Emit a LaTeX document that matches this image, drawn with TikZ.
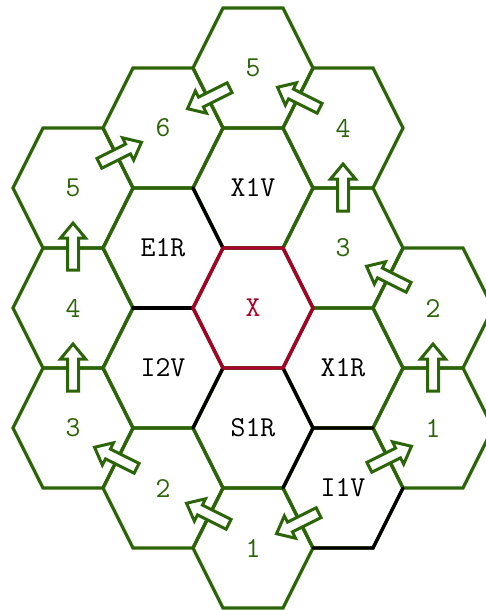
\documentclass[tikz,border=0pt]{standalone}
\usepackage{fontspec}
\definecolor{cellgreen}{RGB}{44,100,8}
\definecolor{corered}{RGB}{168,0,40}
\tikzset{
  gridline/.style={line width=3.2bp, draw=cellgreen, line join=miter},
  hexcell/.pic={
    \draw[gridline] (-60,0) -- (-30,-60) -- (30,-60) -- (60,0) -- (30,60) -- (-30,60) -- cycle;
  },
  flowarrow/.pic={
    \draw[line width=3bp, draw=cellgreen, fill=white, line join=miter]
      (-23,-5.5) -- (9,-5.5) -- (9,-12.5) -- (24,0) -- (9,12.5) -- (9,5.5) -- (-23,5.5) -- cycle;
  },
  celltext/.style={font=\fontsize{29}{32}\selectfont\ttfamily, inner sep=0pt},
  numlabel/.style={celltext, text=cellgreen},
  keylabel/.style={celltext, text=black},
  borderline/.style={line width=3.2bp, draw=black, line cap=round},
}
\begin{document}
\begin{tikzpicture}[x=1bp, y=-1bp]
\useasboundingbox (0,0) rectangle (486,610);
\clip (0,0) rectangle (486,610);

% cell centres
\coordinate (c5a) at (73,188);
\coordinate (c4a) at (73,308);
\coordinate (c3a) at (73,428);
\coordinate (c6)  at (163,128);
\coordinate (cE)  at (163,248);
\coordinate (cI2) at (163,368);
\coordinate (c2a) at (163,488);
\coordinate (c5b) at (253,68);
\coordinate (cX1V) at (253,188);
\coordinate (cX)  at (253,308);
\coordinate (cS)  at (253,428);
\coordinate (c1a) at (253,548);
\coordinate (c4b) at (343,128);
\coordinate (c3b) at (343,248);
\coordinate (cX1R) at (343,368);
\coordinate (cI1) at (343,488);
\coordinate (c2b) at (433,308);
\coordinate (c1b) at (433,428);

% green hex grid
\foreach \c in {c5a,c4a,c3a,c6,cE,cI2,c2a,c5b,cX1V,cX,cS,c1a,c4b,c3b,cX1R,cI1,c2b,c1b}
  \pic at (\c) {hexcell};

% black borders
\draw[borderline] (193,188) -- (223,248);
\draw[borderline] (133,308) -- (193,308);
\draw[borderline] (223,368) -- (193,428);
\draw[borderline] (283,368) -- (313,428) -- (373,428);
\draw[borderline] (313,428) -- (283,488);
\draw[borderline] (403,488) -- (373,548) -- (313,548);

% central cell
\draw[line width=3.2bp, draw=corered, line join=miter]
  (193,308) -- (223,248) -- (283,248) -- (313,308) -- (283,368) -- (223,368) -- cycle;

% flow arrows
\pic[rotate=206.57] at (209,98) {flowarrow};
\pic[rotate=153.43] at (299,98) {flowarrow};
\pic[rotate=26.57]  at (120,153) {flowarrow};
\pic[rotate=90]     at (73,247) {flowarrow};
\pic[rotate=90]     at (73,368) {flowarrow};
\pic[rotate=153.43] at (116,458) {flowarrow};
\pic[rotate=153.43] at (208,514) {flowarrow};
\pic[rotate=206.57] at (298,523) {flowarrow};
\pic[rotate=26.57]  at (390,457) {flowarrow};
\pic[rotate=90]     at (433,368) {flowarrow};
\pic[rotate=153.43] at (388,277) {flowarrow};
\pic[rotate=90]     at (343,188) {flowarrow};

% labels
\node[numlabel] (n5a) at (c5a) {5};
\node[numlabel] (n4a) at (c4a) {4};
\node[numlabel] (n3a) at (c3a) {3};
\node[numlabel] (n6)  at (c6)  {6};
\node[keylabel] (nE)  at (cE)  {E1R};
\node[keylabel] (nI2) at (cI2) {I2V};
\node[numlabel] (n2a) at (c2a) {2};
\node[numlabel] (n5b) at (c5b) {5};
\node[keylabel] (nX1V) at (cX1V) {X1V};
\node[celltext, text=corered] (nX) at (cX) {X};
\node[keylabel] (nS)  at (cS)  {S1R};
\node[numlabel] (n1a) at (c1a) {1};
\node[numlabel] (n4b) at (c4b) {4};
\node[numlabel] (n3b) at (c3b) {3};
\node[keylabel] (nX1R) at (cX1R) {X1R};
\node[keylabel] (nI1) at (cI1) {I1V};
\node[numlabel] (n2b) at (c2b) {2};
\node[numlabel] (n1b) at (c1b) {1};
\end{tikzpicture}
\end{document}
